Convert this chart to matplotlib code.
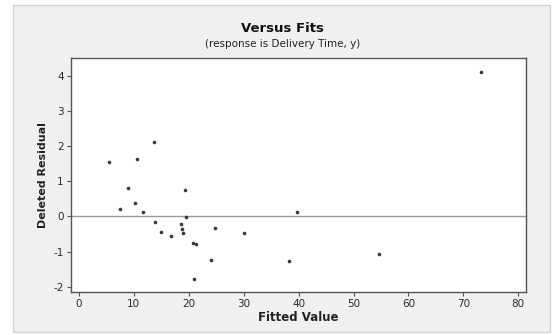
import matplotlib.pyplot as plt
from matplotlib.patches import Rectangle

# fitted values and deleted residuals
fitted = [5.5, 7.4, 9.0, 10.2, 10.6, 11.6, 13.7, 13.9, 14.9, 16.8,
          18.5, 18.7, 19.0, 19.3, 19.5, 20.7, 21.3, 21.0, 24.0, 24.7,
          30.1, 38.2, 39.7, 54.6, 73.2]
deleted_resid = [1.54, 0.21, 0.80, 0.39, 1.63, 0.12, 2.11, -0.17, -0.43, -0.56,
                 -0.20, -0.36, -0.47, 0.75, -0.01, -0.76, -0.79, -1.78, -1.24, -0.32,
                 -0.47, -1.28, 0.14, -1.08, 4.11]
x_ticks = [0, 10, 20, 30, 40, 50, 60, 70, 80]
y_ticks = [-2, -1, 0, 1, 2, 3, 4]

plt.rcParams["axes.unicode_minus"] = False

W, H = 554, 335
fig = plt.figure(figsize=(W / 100, H / 100), dpi=100, facecolor="white")

# light grey graph frame behind the plot area
frame = Rectangle((13 / W, 1 - 332 / H), (550 - 13) / W, (332 - 5) / H,
                  transform=fig.transFigure, facecolor="#f0f0f0",
                  edgecolor="#d4d4d4", linewidth=1.0, zorder=-10)
fig.add_artist(frame)

ax = fig.add_axes([70.7 / W, 1 - 291.7 / H, (526 - 70.7) / W, (291.7 - 58.3) / H])
ax.set_zorder(5)
ax.set_facecolor("white")

ax.axhline(0, color="#9a9a9a", linewidth=1.0, zorder=1)
ax.plot(fitted, deleted_resid, "o", color="#3a3a3a", markersize=2.6,
        markeredgewidth=0, zorder=2)

ax.set_xlim(-1.5, 81.4)
ax.set_ylim(-2.14, 4.5)
ax.set_xticks(x_ticks)
ax.set_yticks(y_ticks)

for s in ax.spines.values():
    s.set_color("#555555")
    s.set_linewidth(1.0)
ax.tick_params(direction="out", length=3, width=0.8, color="#555555",
               labelsize=7.5, labelcolor="#2a2a2a", pad=2)

ax.set_xlabel("Fitted Value", fontsize=8.5, fontweight="bold", color="#222222", labelpad=2)
ax.set_ylabel("Deleted Residual", fontsize=8, fontweight="bold", color="#222222", labelpad=4)

fig.text(282 / W, 1 - 28.5 / H, "Versus Fits", ha="center", va="center",
         fontsize=9.5, fontweight="bold", color="#111111")
fig.text(283 / W, 1 - 44 / H, "(response is Delivery Time, y)", ha="center", va="center",
         fontsize=7.5, color="#222222")

fig.savefig("out.png", dpi=100, facecolor=fig.get_facecolor())
